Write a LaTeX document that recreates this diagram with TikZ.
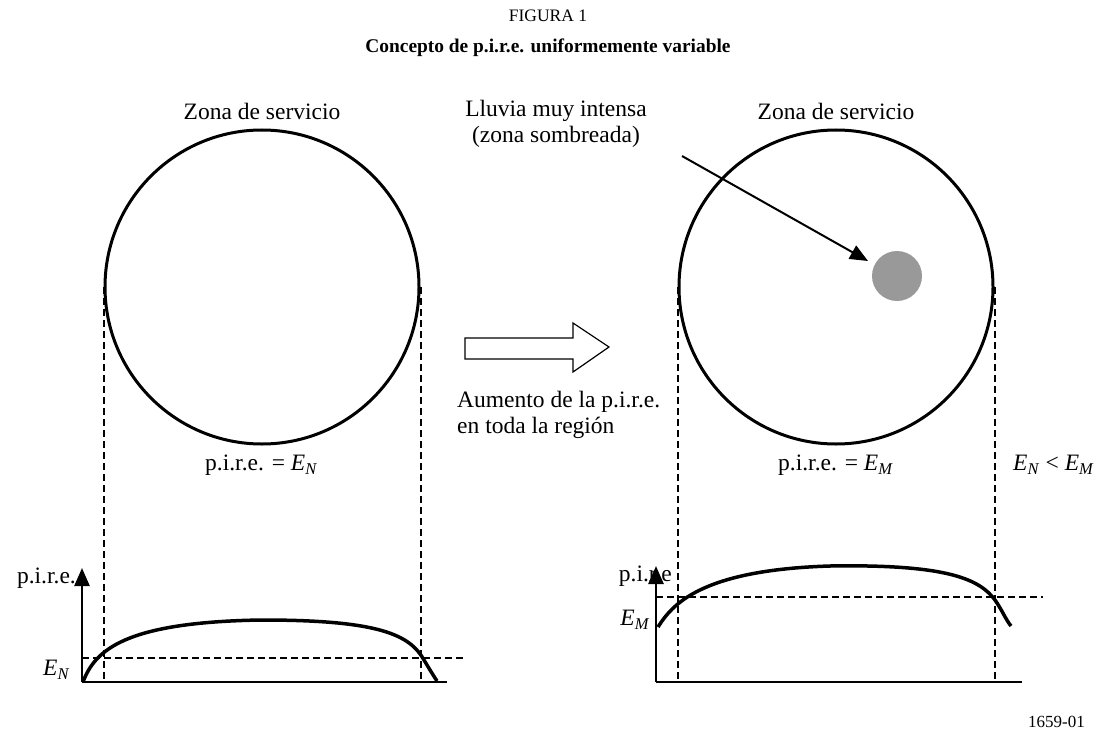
\documentclass[tikz,border=0pt]{standalone}
\usepackage{fontspec}
\setmainfont{Liberation Serif}
\usetikzlibrary{arrows.meta}
\tikzset{
  lbl/.style={inner sep=0pt, font=\fontsize{23.5}{26}\selectfont},
  zone/.style={circle, draw, line width=3pt, minimum size=314pt, inner sep=0pt},
  guide/.style={line width=2pt, dash pattern=on 7pt off 4pt},
  axisline/.style={line width=2.5pt},
  curveline/.style={line width=3.5pt},
  tri/.style={-{Triangle[length=18pt,width=15pt]}},
}
\begin{document}
\begin{tikzpicture}[x=1pt,y=-1pt]
\useasboundingbox (0,0) rectangle (1095,733);
% titles
\node[inner sep=0pt, font=\fontsize{17.5}{21}\selectfont] (fig) at (548,16) {FIGURA 1};
\node[inner sep=0pt, font=\fontsize{19.4}{23}\selectfont\bfseries] (title) at (548,48) {Concepto de p.i.r.e. uniformemente variable};
% circles
\node[zone] (cl) at (262,287) {};
\node[zone] (cr) at (836,287) {};
\node[lbl] (zl) at (262,111) {Zona de servicio};
\node[lbl] (zr) at (836,111) {Zona de servicio};
% rain
\node[circle, fill={rgb,255:red,153;green,153;blue,153}, minimum size=50pt, inner sep=0pt] (rain) at (897,276) {};
\node[lbl, align=center] (lluvia) at (556,124) {Lluvia muy intensa\\(zona sombreada)};
\coordinate (rs) at (682,156);
\coordinate (rt) at (868,261);
\draw[line width=2pt, tri] (rs) -- (rt);
% hollow arrow
\draw[line width=1.2pt] (465,338) -- (573,338) -- (573,323) -- (609,347) -- (573,372) -- (573,359) -- (465,359) -- cycle;
\node[lbl, anchor=west, align=left] (aum) at (457,415) {Aumento de la p.i.r.e.\\en toda la región};
% eirp labels
\node[lbl, anchor=west] (en) at (205,465) {p.i.r.e. = \textit{E}\textsubscript{\textit{N}}};
\node[lbl, anchor=west] (em) at (778,465) {p.i.r.e. = \textit{E}\textsubscript{\textit{M}}};
\node[lbl, anchor=west] (cmp) at (1013,465) {\textit{E}\textsubscript{\textit{N}} < \textit{E}\textsubscript{\textit{M}}};
% left graph
\coordinate (lo) at (82,682);
\coordinate (ly) at (82,568);
\coordinate (lx) at (447,682);
\draw[axisline, tri] (lo) -- (ly);
\draw[axisline] (lo) -- (lx);
\node[lbl, anchor=east] (ylab1) at (76,578) {p.i.r.e.};
\node[lbl, anchor=east] (enlab) at (70,670) {\textit{E}\textsubscript{\textit{N}}};
\coordinate (ld1) at (cl.west |- lo);
\coordinate (ld2) at (cl.east |- lo);
\draw[guide] (cl.west) -- (ld1);
\draw[guide] (cl.east) -- (ld2);
\coordinate (lh1) at (82,658);
\coordinate (lh2) at (463,658);
\draw[guide] (lh1) -- (lh2);
\draw[curveline] (83,682) .. controls (95,650) and (125,622) .. (262,620) .. controls (380,620) and (410,635) .. (424,660) .. controls (430,670) and (433,675) .. (437,681);
% right graph
\coordinate (ro) at (656,682);
\coordinate (ry) at (656,566);
\coordinate (rx) at (1022,682);
\draw[axisline, tri] (ro) -- (ry);
\draw[axisline] (ro) -- (rx);
\node[lbl, anchor=east] (ylab2) at (672,576) {p.i.r.e};
\node[lbl, anchor=east] (emlab) at (650,620) {\textit{E}\textsubscript{\textit{M}}};
\coordinate (rd1) at (cr.west |- ro);
\coordinate (rd2) at (cr.east |- ro);
\draw[guide] (cr.west) -- (rd1);
\draw[guide] (cr.east) -- (rd2);
\coordinate (rh1) at (656,597);
\coordinate (rh2) at (1043,597);
\draw[guide] (rh1) -- (rh2);
\draw[curveline] (658,627) .. controls (672,605) and (700,570) .. (830,566) .. controls (950,564) and (980,580) .. (995,600) .. controls (1002,610) and (1006,620) .. (1011,626);
% figure number
\node[inner sep=0pt, font=\fontsize{17}{20}\selectfont, anchor=east] (num) at (1085,722) {1659-01};
\end{tikzpicture}
\end{document}
